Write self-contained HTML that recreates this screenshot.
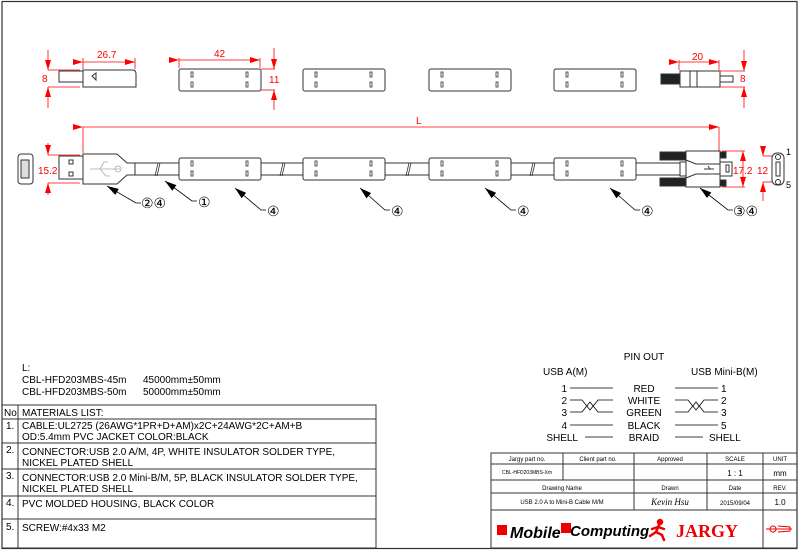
<!DOCTYPE html>
<html><head><meta charset="utf-8"><style>
body{margin:0;background:#fff;}
svg{display:block;font-family:"Liberation Sans",sans-serif;}
.r{fill:#f00;font-size:10px}
</style></head><body>
<svg width="800" height="550" viewBox="0 0 800 550" xmlns="http://www.w3.org/2000/svg">
<defs>
<marker id="a" viewBox="0 0 10 6" refX="10" refY="3" markerWidth="11" markerHeight="6" markerUnits="userSpaceOnUse" orient="auto"><path d="M0,0L10,3L0,6z" fill="#f00"/></marker>
<marker id="b" viewBox="0 0 10 6" refX="10" refY="3" markerWidth="12" markerHeight="7" markerUnits="userSpaceOnUse" orient="auto"><path d="M0,0L10,3L0,6z" fill="#000"/></marker>
<g id="fer"><rect x="0" y="0" width="82" height="22" rx="2" fill="#fff" stroke="#333" stroke-width="1"/>
<g fill="none" stroke="#333" stroke-width="0.8"><rect x="12" y="3" width="2" height="5"/><rect x="12" y="13" width="2" height="5"/><rect x="67" y="3" width="2" height="5"/><rect x="67" y="13" width="2" height="5"/></g></g>
</defs>
<rect x="2" y="1.5" width="795" height="547" fill="none" stroke="#333" stroke-width="1.2"/>

<g stroke="#333" fill="#fff">
<rect x="59" y="71" width="24" height="11"/>
<path d="M83,70H133Q136,70 136,74V87H83Z"/>
<path d="M92,76L96,73V80Z" fill="none"/>
</g>
<use href="#fer" x="179" y="69"/>
<use href="#fer" x="303" y="69"/>
<use href="#fer" x="429" y="69"/>
<use href="#fer" x="554" y="69"/>
<g stroke="#333">
<rect x="661" y="74" width="20" height="10" fill="#222"/>
<rect x="680" y="71" width="40" height="16" fill="#fff"/>
<line x1="690" y1="71" x2="690" y2="87"/><line x1="697" y1="71" x2="697" y2="87"/>
<rect x="720" y="76" width="13" height="6" fill="#fff"/>
</g>
<g stroke="#f00" stroke-width="0.8" fill="none">
<line x1="83" y1="62" x2="135" y2="62" marker-start="url(#a)" marker-end="url(#a)"/>
<line x1="83" y1="58" x2="83" y2="69"/><line x1="135" y1="58" x2="135" y2="69"/>
<line x1="48" y1="50" x2="48" y2="70" marker-end="url(#a)"/><line x1="48" y1="108" x2="48" y2="87" marker-end="url(#a)"/>
<line x1="48" y1="70" x2="80" y2="70"/><line x1="48" y1="87" x2="80" y2="87"/>
<line x1="179" y1="60" x2="260" y2="60" marker-start="url(#a)" marker-end="url(#a)"/>
<line x1="179" y1="58" x2="179" y2="68"/><line x1="260" y1="58" x2="260" y2="68"/>
<line x1="274" y1="48" x2="274" y2="69" marker-end="url(#a)"/><line x1="274" y1="110" x2="274" y2="90" marker-end="url(#a)"/>
<line x1="261" y1="69" x2="275" y2="69"/><line x1="261" y1="90" x2="275" y2="90"/>
<line x1="679" y1="62" x2="719" y2="62" marker-start="url(#a)" marker-end="url(#a)"/>
<line x1="679" y1="60" x2="679" y2="70"/><line x1="719" y1="60" x2="719" y2="70"/>
<line x1="744" y1="50" x2="744" y2="71" marker-end="url(#a)"/><line x1="744" y1="108" x2="744" y2="87" marker-end="url(#a)"/>
<line x1="720" y1="71" x2="745" y2="71"/><line x1="720" y1="87" x2="745" y2="87"/>
<line x1="83" y1="127" x2="719" y2="127" marker-start="url(#a)" marker-end="url(#a)"/>
<line x1="83" y1="127" x2="83" y2="153"/><line x1="719" y1="127" x2="719" y2="151"/>
<line x1="48" y1="143" x2="48" y2="155" marker-end="url(#a)"/><line x1="48" y1="195" x2="48" y2="183" marker-end="url(#a)"/>
<line x1="48" y1="155" x2="80" y2="155"/><line x1="48" y1="183" x2="80" y2="183"/>
<line x1="722" y1="151" x2="745" y2="151"/><line x1="722" y1="187" x2="745" y2="187"/>
<line x1="743" y1="170" x2="743" y2="151" marker-end="url(#a)"/><line x1="743" y1="170" x2="743" y2="187" marker-end="url(#a)"/>
<line x1="763" y1="146" x2="763" y2="156" marker-end="url(#a)"/><line x1="763" y1="156" x2="777" y2="156"/>
<line x1="763" y1="182" x2="777" y2="182"/><line x1="763" y1="201" x2="763" y2="182" marker-end="url(#a)"/>
</g>
<text class="r" x="97" y="58">26.7</text>
<text class="r" x="214" y="57">42</text>
<text class="r" x="692" y="60">20</text>
<text class="r" x="42" y="82">8</text>
<text class="r" x="269" y="83">11</text>
<text class="r" x="740" y="82">8</text>
<text class="r" x="416" y="124">L</text>
<text class="r" x="38" y="174">15.2</text>
<text class="r" x="733" y="174">17.2</text>
<text class="r" x="757" y="174">12</text>

<g stroke="#333" fill="#fff">
<rect x="135" y="163" width="575" height="12"/>
<rect x="18" y="154" width="15" height="30" rx="3"/>
<rect x="21" y="160" width="8" height="18" fill="#ddd"/>
<rect x="59" y="156" width="24" height="23"/>
<rect x="69" y="160" width="4" height="4"/><rect x="69" y="172" width="4" height="4"/>
<path d="M83,154H117L127,163H135V175H127L117,184H83Z"/>
</g>
<g stroke="#aaa" fill="none" stroke-width="0.8"><path d="M90,169H120M100,169L104,162H108M100,169L106,176H110"/><circle cx="118" cy="169" r="3"/></g>
<g stroke="#333" fill="none" stroke-width="0.8"><path d="M155,176L158,163M157,176L160,163M280,176L283,163M282,176L285,163M406,176L409,163M408,176L411,163M530,176L533,163M532,176L535,163"/></g>
<use href="#fer" x="179" y="158"/>
<use href="#fer" x="303" y="158"/>
<use href="#fer" x="429" y="158"/>
<use href="#fer" x="554" y="158"/>
<g stroke="#333">
<rect x="660" y="152" width="26" height="8" fill="#222"/>
<rect x="660" y="178" width="26" height="8" fill="#222"/>
<rect x="680" y="162" width="8" height="14" fill="#fff"/>
<rect x="686" y="151" width="34" height="36" fill="#fff"/>
<path d="M686,160L696,164H720M686,178L696,174H720" fill="none"/>
<rect x="720" y="152" width="6" height="6" fill="#222"/><rect x="720" y="180" width="6" height="6" fill="#222"/>
<rect x="720" y="162" width="12" height="14" fill="#fff"/><rect x="726" y="165" width="3" height="7" fill="#fff"/>
<path d="M704,169H714M708,166L710,169" fill="none"/>
<rect x="772" y="153" width="12" height="32" rx="5" fill="#fff"/>
<circle cx="778" cy="157" r="2.5" fill="#fff"/><circle cx="778" cy="182" r="2.5" fill="#fff"/>
<rect x="776" y="162" width="4" height="14" fill="#fff"/>
</g>
<text x="786" y="155" font-size="9">1</text><text x="786" y="188" font-size="9">5</text>
<g stroke="#000" stroke-width="0.8" fill="none">
<path d="M141,203H136L107,186" marker-end="url(#b)"/>
<path d="M197,201H192L165,181" marker-end="url(#b)"/>
<path d="M266,210H261L235,188" marker-end="url(#b)"/>
<path d="M390,210H385L360,188" marker-end="url(#b)"/>
<path d="M516,210H511L485,188" marker-end="url(#b)"/>
<path d="M640,210H635L610,188" marker-end="url(#b)"/>
<path d="M733,210H728L700,188" marker-end="url(#b)"/>
</g>
<g font-size="14" fill="#000">
<text x="141" y="208">②④</text><text x="198" y="207">①</text>
<text x="267" y="216">④</text><text x="391" y="216">④</text><text x="517" y="216">④</text><text x="641" y="216">④</text>
<text x="733" y="216">③④</text>
</g>

<g font-size="10" fill="#000">
<text x="22" y="371">L:</text>
<text x="22" y="383">CBL-HFD203MBS-45m</text><text x="143" y="383">45000mm±50mm</text>
<text x="22" y="395">CBL-HFD203MBS-50m</text><text x="143" y="395">50000mm±50mm</text>
</g>
<g stroke="#333" fill="none" stroke-width="1">
<rect x="2" y="405" width="374" height="143"/>
<line x1="18" y1="405" x2="18" y2="548"/>
<line x1="2" y1="419" x2="376" y2="419"/>
<line x1="2" y1="443" x2="376" y2="443"/>
<line x1="2" y1="469" x2="376" y2="469"/>
<line x1="2" y1="496" x2="376" y2="496"/>
<line x1="2" y1="519" x2="376" y2="519"/>
</g>
<g font-size="10" fill="#000">
<text x="4" y="416">No</text><text x="22" y="416">MATERIALS LIST:</text>
<text x="6" y="429">1.</text><text x="22" y="429">CABLE:UL2725 (26AWG*1PR+D+AM)x2C+24AWG*2C+AM+B</text><text x="22" y="440">OD:5.4mm  PVC JACKET COLOR:BLACK</text>
<text x="6" y="453">2.</text><text x="22" y="455">CONNECTOR:USB 2.0 A/M, 4P, WHITE INSULATOR SOLDER TYPE,</text><text x="22" y="466">NICKEL PLATED SHELL</text>
<text x="6" y="479">3.</text><text x="22" y="481">CONNECTOR:USB 2.0 Mini-B/M, 5P, BLACK INSULATOR SOLDER TYPE,</text><text x="22" y="492">NICKEL PLATED SHELL</text>
<text x="6" y="506">4.</text><text x="22" y="507">PVC MOLDED HOUSING, BLACK COLOR</text>
<text x="6" y="530">5.</text><text x="22" y="531">SCREW:#4x33 M2</text>
</g>

<g font-size="10" fill="#000">
<text x="644" y="360" text-anchor="middle">PIN OUT</text>
<text x="543" y="375">USB A(M)</text><text x="691" y="375">USB Mini-B(M)</text>
<g text-anchor="middle"><text x="644" y="392">RED</text><text x="644" y="404">WHITE</text><text x="644" y="416">GREEN</text><text x="644" y="429">BLACK</text><text x="644" y="441">BRAID</text></g>
<g text-anchor="end"><text x="567" y="392">1</text><text x="567" y="404">2</text><text x="567" y="416">3</text><text x="567" y="429">4</text><text x="578" y="441">SHELL</text></g>
<text x="721" y="392">1</text><text x="721" y="404">2</text><text x="721" y="416">3</text><text x="721" y="429">5</text><text x="709" y="441">SHELL</text>
</g>
<g stroke="#000" stroke-width="0.8" fill="none">
<path d="M570,388H613M570,400H582L590,410L598,400H613M570,412H582L590,402L598,412H613M570,425H613M585,437H613"/>
<path d="M675,388H718M675,400H688L696,410L704,400H718M675,412H688L696,402L704,412H718M675,425H718M675,437H703"/>
</g>

<g stroke="#333" fill="none" stroke-width="1">
<rect x="491" y="453" width="306" height="95"/>
<line x1="491" y1="464" x2="797" y2="464"/><line x1="491" y1="480" x2="797" y2="480"/>
<line x1="491" y1="493" x2="797" y2="493"/><line x1="491" y1="510" x2="797" y2="510"/>
<line x1="563" y1="453" x2="563" y2="480"/><line x1="634" y1="453" x2="634" y2="510"/>
<line x1="707" y1="453" x2="707" y2="510"/><line x1="763" y1="453" x2="763" y2="548"/>
</g>
<g font-size="6" fill="#000" text-anchor="middle">
<text x="527" y="461">Jargy part no.</text><text x="598" y="461">Client part no.</text><text x="670" y="461">Approved</text><text x="735" y="461">SCALE</text><text x="780" y="461">UNIT</text>
<text x="527" y="474" font-size="5">CBL-HFD203MBS-Xm</text>
<text x="562" y="490">Drawing Name</text><text x="670" y="490">Drawn</text><text x="735" y="490">Date</text><text x="780" y="490">REV.</text>
<text x="562" y="504">USB 2.0 A to Mini-B Cable M/M</text><text x="735" y="505">2015/09/04</text>
</g>
<g font-size="8" fill="#000" text-anchor="middle">
<text x="735" y="476">1 : 1</text><text x="780" y="476">mm</text><text x="780" y="505">1.0</text>
</g>
<text x="670" y="505" font-size="9" font-style="italic" font-family="Liberation Serif,serif" text-anchor="middle">Kevin Hsu</text>
<g font-weight="bold" font-style="italic" fill="#000">
<text x="510" y="538" font-size="16">Mobile</text>
<text x="570" y="536" font-size="15">Computing</text>
</g>
<rect x="497" y="525" width="10" height="10" fill="#e00"/><rect x="561" y="523" width="10" height="10" fill="#e00"/>
<g stroke="#e00" stroke-width="2.5" fill="none" stroke-linecap="round"><circle cx="660" cy="522" r="2" fill="#e00"/><path d="M659,525L656,532L650,536M656,532L662,535L664,540M658,527L664,529M658,527L652,529"/></g>
<text x="676" y="537" font-size="18" font-weight="bold" font-family="Liberation Serif,serif" fill="#e00">JARGY</text>
<g stroke="#e00" fill="none"><circle cx="773" cy="529" r="3"/><path d="M766,529H792M778,526L790,527V531L778,532"/></g>
</svg>
</body></html>
